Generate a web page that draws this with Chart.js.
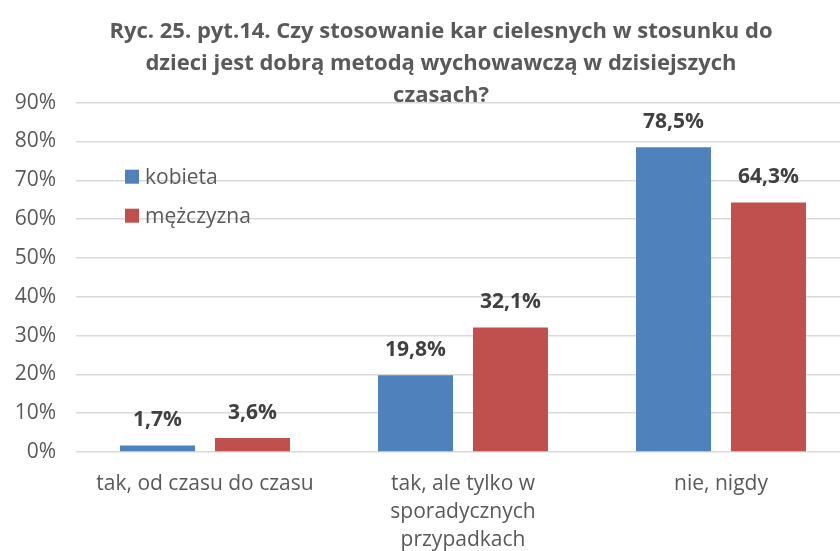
<!DOCTYPE html>
<html>
<head>
<meta charset="utf-8">
<script src="https://cdn.jsdelivr.net/npm/chart.js@4.4.0/dist/chart.umd.min.js"></script>
<style>
  html, body { margin: 0; padding: 0; background: #fff; overflow: hidden; }
  #wrap { width: 850px; height: 551px; }
</style>
</head>
<body>
<div id="wrap"><canvas id="chart" width="850" height="551"></canvas></div>
<script>
let categories = [
  'tak, od czasu do czasu',
  ['tak, ale tylko w', 'sporadycznych', 'przypadkach'],
  'nie, nigdy'
];
let seriesNames = ['kobieta', 'mężczyzna'];
let kobieta = [1.7, 19.8, 78.5];
let mezczyzna = [3.6, 32.1, 64.3];
let yTicks = [0, 10, 20, 30, 40, 50, 60, 70, 80, 90];
let titleLines = [
  'Ryc. 25. pyt.14. Czy stosowanie kar cielesnych w stosunku do',
  'dzieci jest dobrą metodą wychowawczą w dzisiejszych',
  'czasach?'
];

const FONT = '"Open Sans", "Liberation Sans", sans-serif';
const colors = ['#4F81BD', '#C0504D'];

function fmt(v) {
  return v.toFixed(1).replace('.', ',') + '%';
}

// value labels above the bars
const barLabels = {
  id: 'barLabels',
  afterDatasetsDraw(chart) {
    const ctx = chart.ctx;
    ctx.save();
    ctx.font = 'bold 21px ' + FONT;
    ctx.fillStyle = '#404040';
    ctx.textAlign = 'center';
    ctx.textBaseline = 'middle';
    chart.data.datasets.forEach((ds, i) => {
      chart.getDatasetMeta(i).data.forEach((bar, j) => {
        ctx.fillText(fmt(ds.data[j]), bar.x, bar.y - 25);
      });
    });
    ctx.restore();
  }
};

// legend placed inside the plot area
const innerLegend = {
  id: 'innerLegend',
  afterDraw(chart) {
    const ctx = chart.ctx;
    const area = chart.chartArea;
    ctx.save();
    ctx.font = '21px ' + FONT;
    ctx.textBaseline = 'middle';
    chart.data.datasets.forEach((ds, i) => {
      let y = area.top + 74 + i * 39;
      ctx.fillStyle = ds.backgroundColor;
      ctx.fillRect(area.left + 49, y - 7, 14, 14);
      ctx.fillStyle = '#595959';
      ctx.fillText(ds.label, area.left + 69, y + 1);
    });
    ctx.restore();
  }
};

// the title in the original sits a bit right of the canvas centre
const shiftTitle = {
  id: 'shiftTitle',
  afterLayout(chart) {
    if (chart.titleBlock) chart.titleBlock.left = 32;
  }
};

const config = {
  type: 'bar',
  data: {
    labels: categories,
    datasets: [
      { label: seriesNames[0], data: kobieta, backgroundColor: colors[0] },
      { label: seriesNames[1], data: mezczyzna, backgroundColor: colors[1] }
    ]
  },
  options: {
    responsive: false,
    animation: false,
    layout: { padding: 0 },
    datasets: {
      bar: { categoryPercentage: 0.736, barPercentage: 0.79 }
    },
    plugins: {
      legend: { display: false },
      tooltip: { enabled: false },
      title: {
        display: true,
        text: titleLines,
        color: '#595959',
        font: { family: FONT, size: 22, weight: 'bold', lineHeight: 1.45 },
        padding: { top: 16, bottom: -9 }
      }
    },
    scales: {
      x: {
        grid: { display: false },
        border: { display: false },
        ticks: {
          color: '#595959',
          padding: 10,
          maxRotation: 0,
          autoSkip: false,
          font: { family: FONT, size: 21, lineHeight: 1.33 }
        },
        afterFit(scale) { scale.height = 99; }
      },
      y: {
        min: 0,
        max: 90,
        afterBuildTicks(scale) { scale.ticks = yTicks.map(v => ({ value: v })); },
        grid: { color: '#D9D9D9', lineWidth: 1.5, drawTicks: false },
        border: { display: false },
        ticks: {
          color: '#595959',
          padding: 20,
          font: { family: FONT, size: 21 },
          callback: v => v + '%'
        },
        afterFit(scale) { scale.width = 76; }
      }
    }
  },
  plugins: [barLabels, innerLegend, shiftTitle]
};

let canvasChart = document.getElementById('chart');
const myChart = new Chart(canvasChart, config);
</script>
</body>
</html>
